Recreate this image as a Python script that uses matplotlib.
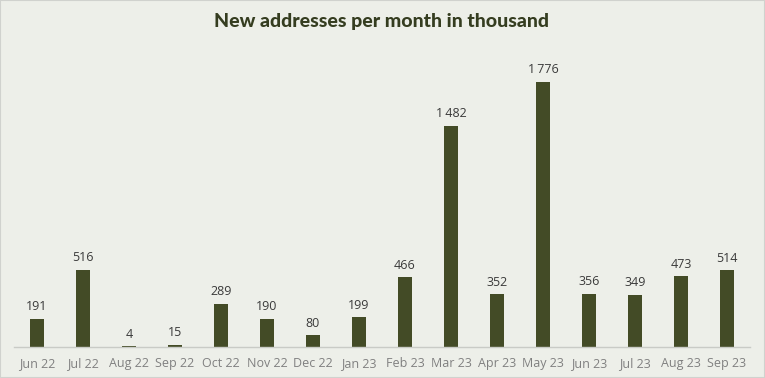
import matplotlib
matplotlib.use("Agg")
import matplotlib.pyplot as plt
from matplotlib.patches import Rectangle

months = ["Jun 22", "Jul 22", "Aug 22", "Sep 22", "Oct 22", "Nov 22", "Dec 22", "Jan 23",
          "Feb 23", "Mar 23", "Apr 23", "May 23", "Jun 23", "Jul 23", "Aug 23", "Sep 23"]
values = [191, 516, 4, 15, 289, 190, 80, 199, 466, 1482, 352, 1776, 356, 349, 473, 514]

BG = "#EDEFE9"
BAR = "#434B26"

plt.rcParams['font.family'] = ['Open Sans', 'DejaVu Sans']

fig = plt.figure(figsize=(7.65, 3.78), dpi=100, facecolor=BG)
ax = fig.add_axes([14/765, 1-347/378, (750-14)/765, (347-60)/378])
ax.set_facecolor(BG)

x = list(range(len(months)))
ax.bar(x, values, width=0.305, color=BAR, zorder=2)

ax.set_xlim(-0.5, len(months)-0.5)
ax.set_ylim(0, 1776*287/265)

for s in ["top", "right", "left"]:
    ax.spines[s].set_visible(False)
ax.spines["bottom"].set_color("#C9CBC6")
ax.spines["bottom"].set_linewidth(1.0)
ax.set_yticks([])
ax.set_xticks(x)
ax.set_xticklabels(months, color="#808080", fontsize=9)
ax.tick_params(axis="x", length=0, pad=7)

def fmt(v):
    s = f"{v:,}".replace(",", "\u2009")
    return s

for xi, v in zip(x, values):
    ax.annotate(fmt(v), (xi, v), xytext=(0, 4), textcoords="offset points",
                ha="center", va="bottom", fontsize=9, color="#3A3A3A")

fig.text(0.499, 1-22/378, "New addresses per month in thousand", ha="center", va="center",
         fontsize=14, fontweight="black", color="#353D20", family=["Lato", "DejaVu Sans"])

fig.patches.append(Rectangle((0, 0), 1, 1, transform=fig.transFigure, fill=False,
                             edgecolor="#D0D2CE", linewidth=1.5))

fig.savefig("out.png", dpi=100, facecolor=BG)
